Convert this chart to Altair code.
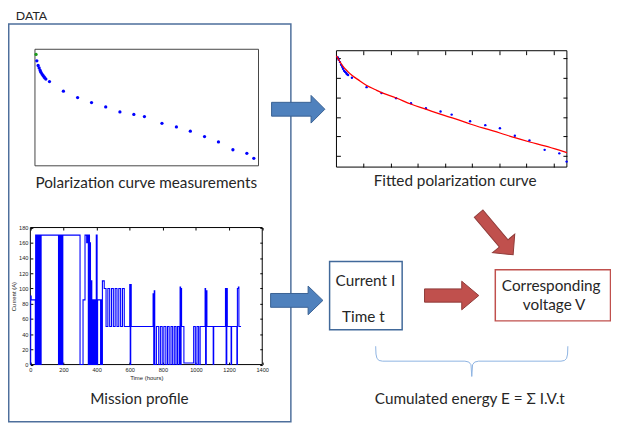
import altair as alt
import pandas as pd

# ------------------------------------------------------------------ data
# polarization measurements (current density, voltage) as read from the two small plots
current_density = [0.05, 0.08, 0.13, 0.17, 0.21, 0.24, 0.28, 0.32, 0.36, 0.39, 0.43,
                   0.57, 1.11, 1.66, 2.20, 2.75, 3.30, 3.84, 4.25, 4.93, 5.49, 6.03,
                   6.58, 7.12, 7.68, 8.22, 8.49]
voltage_measured = [0.976, 0.958, 0.945, 0.938, 0.931, 0.926, 0.921, 0.917, 0.913, 0.910, 0.907,
                    0.900, 0.873, 0.855, 0.841, 0.829, 0.815, 0.808, 0.802, 0.783, 0.773, 0.761,
                    0.746, 0.731, 0.709, 0.699, 0.685]
voltage_fit_view = [0.952, 0.946, 0.940, 0.933, 0.928, 0.923, 0.918, 0.915, 0.912, 0.909, 0.907,
                    0.900, 0.876, 0.861, 0.848, 0.835, 0.822, 0.814, 0.806, 0.789, 0.779, 0.771,
                    0.752, 0.740, 0.716, 0.707, 0.686]
# fitted polarization curve
fit_current = [0.00, 0.10, 0.22, 0.40, 0.58, 0.82, 1.10, 1.42, 1.66, 2.19, 2.74, 3.29, 3.83,
               4.39, 4.93, 5.49, 6.03, 6.58, 7.13, 7.68, 8.22, 8.50]
fit_voltage = [0.956, 0.944, 0.931, 0.917, 0.906, 0.894, 0.881, 0.870, 0.862, 0.849, 0.833,
               0.820, 0.807, 0.795, 0.782, 0.770, 0.759, 0.747, 0.736, 0.726, 0.715, 0.709]
# mission profile (step changes: time in hours, current in A)
mission_time = [0, 2, 5, 30, 32, 36, 38, 42, 44, 48, 50, 55, 57, 62, 65,
                170, 172, 174, 176, 179, 181, 184, 186, 189, 191, 194, 196,
                300, 318, 330, 340, 344, 350, 353, 357, 360, 363, 368, 371, 375, 379, 382, 386,
                390, 394, 398, 403, 406, 424, 428, 432, 435,
                446, 457, 468, 479, 490, 501, 512, 523, 534, 545, 556, 567,
                600, 603, 606, 609,
                741, 745, 748, 751, 761, 775, 785, 796, 806, 818, 828, 838, 849, 859, 869, 879,
                888, 898, 904, 907, 910, 913, 927,
                986, 996, 1006, 1016, 1025,
                1055, 1058, 1062, 1066, 1104, 1107, 1178, 1182, 1186, 1189, 1212, 1215,
                1247, 1250, 1256, 1259, 1272]
mission_current = [0, 90, 85, 0, 170, 0, 170, 0, 170, 0, 170, 0, 170, 0, 170,
                   0, 110, 0, 170, 0, 170, 0, 170, 0, 170, 0, 170,
                   0, 85, 170, 160, 170, 0, 170, 0, 160, 0, 110, 0, 85, 0, 85, 0,
                   85, 0, 170, 0, 85, 0, 85, 0, 110,
                   100, 50, 100, 50, 100, 50, 100, 50, 100, 50, 100, 50,
                   105, 0, 105, 50,
                   93, 0, 97, 0, 50, 0, 50, 0, 50, 0, 50, 0, 50, 0, 50, 0,
                   50, 0, 102, 0, 100, 50, 2,
                   50, 0, 50, 0, 50,
                   100, 0, 97, 50, 0, 50, 100, 0, 100, 50, 0, 50,
                   0, 100, 102, 50, 50]
mission_time_ticks = [0, 200, 400, 600, 800, 1000, 1200, 1400]
mission_current_ticks = [0, 20, 40, 60, 80, 100, 120, 140, 160, 180]
fit_current_ticks = [1, 2, 3, 4, 5, 6, 7, 8]
fit_voltage_ticks = [0.70, 0.75, 0.80, 0.85, 0.90, 0.95]

# ------------------------------------------------------------------ layout
W, H = 611, 419
RX0, RX1 = 4, 619
RY0, RY1 = 3, 427
TEXT = "#262626"


def X(r):
    return (r - RX0) * W / (RX1 - RX0)


def Y(r):
    return (r - RY0) * H / (RY1 - RY0)


def lx():
    return alt.Scale(domain=[RX0, RX1], range=[0, W], nice=False, zero=False)


def ly():
    return alt.Scale(domain=[RY0, RY1], range=[0, H], nice=False, zero=False)


def enc_xy():
    return dict(x=alt.X("x:Q", scale=lx(), axis=None), y=alt.Y("y:Q", scale=ly(), axis=None))


def frame(x1, y1, x2, y2, color, width):
    df = pd.DataFrame({"x": [x1], "x2": [x2], "y": [y1], "y2": [y2]})
    return alt.Chart(df).mark_rect(fill="transparent", stroke=color, strokeWidth=width).encode(
        x2="x2:Q", y2="y2:Q", **enc_xy())


def label(text, x, y, size, align="center", color=TEXT):
    df = pd.DataFrame({"x": [x], "y": [y], "text": [text]})
    return alt.Chart(df).mark_text(font="Lato", fontSize=size, align=align,
                                   baseline="alphabetic", color=color).encode(
        text="text:N", **enc_xy())


def arrow(cx, cy, length, angle, shaft, head, head_len, fill, stroke):
    half = length / 2.0
    w = shaft / half
    h = head / half
    b = 1 - head_len / half
    path = (f"M -1 {-w:.3f} L {b:.3f} {-w:.3f} L {b:.3f} {-h:.3f} L 1 0 "
            f"L {b:.3f} {h:.3f} L {b:.3f} {w:.3f} L -1 {w:.3f} Z")
    df = pd.DataFrame({"x": [cx], "y": [cy]})
    return alt.Chart(df).mark_point(shape=path, size=length ** 2, angle=angle, filled=True,
                                    fill=fill, stroke=stroke, strokeWidth=1,
                                    opacity=1, fillOpacity=1).encode(**enc_xy())


# boxes
frames = [
    frame(4.75, 16.5, 292.5, 424.5, "#4E6F9C", 1.5),      # DATA box
    frame(31.5, 42.5, 259.5, 162, "#444444", 1),         # measurement plot
    frame(339, 44, 574, 163.3, "#000000", 1),            # fitted plot
    frame(26.8, 225.3, 263.3, 365.8, "#000000", 1),      # mission plot
    frame(332, 260, 406, 330, "#41699A", 1.5),           # Current / Time box
    frame(501, 268.5, 618.5, 321, "#C0504D", 1.5),       # voltage box
]

# ---------------- measurement plot
mjx = alt.Scale(domain=[0, 8.68], range=[X(31.3), X(259.7)], nice=False, zero=False)
mjy = alt.Scale(domain=[0.664, 0.991], range=[Y(162), Y(42.3)], nice=False, zero=False)
meas_df = pd.DataFrame({"j": current_density, "v": voltage_measured})
meas = alt.Chart(meas_df).transform_window(idx="row_number()").mark_circle(size=11, opacity=1).encode(
    x=alt.X("j:Q", scale=mjx, axis=None),
    y=alt.Y("v:Q", scale=mjy, axis=None),
    color=alt.condition(alt.datum.idx == 1, alt.value("#1a9a1a"), alt.value("#0000ff")),
)

# ---------------- fitted plot
def fx():
    return alt.Scale(domain=[0, 8.5], range=[X(339), X(574)], nice=False, zero=False)


def fy():
    return alt.Scale(domain=[0.672, 0.969], range=[Y(163.3), Y(44)], nice=False, zero=False)


tick_style = dict(labels=False, domain=False, grid=False, ticks=True, tickColor="#000000",
                  tickWidth=1, title="")
fit_pts_df = pd.DataFrame({"j": current_density, "v": voltage_fit_view})
fit_pts = alt.Chart(fit_pts_df).mark_circle(size=6, opacity=1, color="#0000ff").encode(
    x=alt.X("j:Q", scale=fx(), axis=alt.Axis(orient="top", offset=-Y(163.3), values=fit_current_ticks,
                                              tickSize=4, **tick_style)),
    y=alt.Y("v:Q", scale=fy(), axis=alt.Axis(orient="right", offset=X(339) - W, values=fit_voltage_ticks,
                                              tickSize=4, **tick_style)),
)
fit_df = pd.DataFrame({"j": fit_current, "v": fit_voltage})
fit_line = alt.Chart(fit_df).mark_line(interpolate="monotone", color="#ff0000", strokeWidth=1.3).encode(
    x=alt.X("j:Q", scale=fx(), axis=alt.Axis(orient="bottom", offset=Y(44) - H, values=fit_current_ticks,
                                              tickSize=4, **tick_style)),
    y=alt.Y("v:Q", scale=fy(), axis=alt.Axis(orient="left", offset=-X(574), values=fit_voltage_ticks,
                                              tickSize=4, **tick_style)),
)

# ---------------- mission profile
def mx():
    return alt.Scale(domain=[0, 1400], range=[X(26.8), X(263.3)], nice=False, zero=False)


def my():
    return alt.Scale(domain=[0, 180], range=[Y(365.8), Y(225.3)], nice=False, zero=False)


lab_style = dict(ticks=False, tickSize=0, domain=False, grid=False, labelFont="Liberation Sans",
                 labelFontSize=5.7, labelColor="#222222", labelPadding=2.5, labelFlush=False,
                 labelOverlap=False, titleFont="Liberation Sans", titleFontSize=6,
                 titleFontWeight="normal", titleColor="#222222", format="d")
mission_df = pd.DataFrame({"t": mission_time, "i": mission_current})
mission = alt.Chart(mission_df).mark_line(interpolate="step-after", color="#0000ff", strokeWidth=1.1).encode(
    x=alt.X("t:Q", scale=mx(), axis=alt.Axis(orient="bottom", offset=Y(365.8) - H, values=mission_time_ticks,
                                              title="Time (hours)", titlePadding=1.5, **lab_style)),
    y=alt.Y("i:Q", scale=my(), axis=alt.Axis(orient="left", offset=-X(26.8), values=mission_current_ticks,
                                              title="Current (A)", titlePadding=2.5, **lab_style)),
)
mission_ticks_a = alt.Chart(mission_df).mark_line(opacity=0).encode(
    x=alt.X("t:Q", scale=mx(), axis=alt.Axis(orient="top", offset=-Y(365.8), values=mission_time_ticks,
                                              tickSize=2.5, **tick_style)),
    y=alt.Y("i:Q", scale=my(), axis=alt.Axis(orient="right", offset=X(26.8) - W, values=mission_current_ticks,
                                              tickSize=2.5, **tick_style)),
)
mission_ticks_b = alt.Chart(mission_df).mark_line(opacity=0).encode(
    x=alt.X("t:Q", scale=mx(), axis=alt.Axis(orient="bottom", offset=Y(225.3) - H, values=mission_time_ticks,
                                              tickSize=2.5, **tick_style)),
    y=alt.Y("i:Q", scale=my(), axis=alt.Axis(orient="left", offset=-X(263.3), values=mission_current_ticks,
                                              tickSize=2.5, **tick_style)),
)

# ---------------- arrows
BLUE_F, BLUE_S = "#4F81BD", "#3A6293"
RED_F, RED_S = "#C0504D", "#8E3B39"
arrows = [
    arrow(300, 104, 54, 0, 7, 14, 14, BLUE_F, BLUE_S),
    arrow(298.5, 300, 53, 0, 7, 14.5, 15, BLUE_F, BLUE_S),
    arrow(456.5, 295, 55, 0, 6.7, 14.5, 17.3, RED_F, RED_S),
    arrow(501.6, 232.1, 54.4, 50, 5.7, 14.7, 15, RED_F, RED_S),
]

# ---------------- brace
brace_x = [379, 379.3, 380.3, 382.5, 386, 470, 474, 476.2, 477, 477.8, 480, 484, 568, 571.5, 573.7, 574.7, 575]
brace_y = [347, 355, 359.5, 361.6, 362.3, 362.3, 363.2, 366, 378, 366, 363.2, 362.3, 362.3, 361.6, 359.5, 355, 347]
brace_df = pd.DataFrame({"x": brace_x, "y": brace_y, "o": list(range(len(brace_x)))})
brace = alt.Chart(brace_df).mark_line(color="#8DB3E2", strokeWidth=1).encode(order="o:Q", **enc_xy())

# ---------------- texts
texts = [
    label("DATA", 12, 13, 12.5, align="left"),
    label("Polarization curve measurements", 145, 185, 15.5),
    label("Fitted polarization curve", 460, 182.7, 15.5),
    label("Mission profile", 138, 406, 15.5),
    label("Current I", 368.5, 285, 15.5),
    label("Time t", 366.5, 322.3, 15.5),
    label("Corresponding", 558, 290.7, 15.5),
    label("voltage V", 561, 310, 15.5),
    label("Cumulated energy E = \u03a3 I.V.t", 475, 406, 15.5),
]

layers = frames + [meas, fit_pts, fit_line, mission, mission_ticks_a, mission_ticks_b, brace] + arrows + texts
chart = alt.layer(*layers).resolve_scale(x="independent", y="independent").properties(
    width=W, height=H, autosize=alt.AutoSizeParams(type="none"), padding=0,
    background="#ffffff",
).configure_view(strokeWidth=0)

chart.save("out.html", embed_options={"renderer": "svg", "actions": False})
